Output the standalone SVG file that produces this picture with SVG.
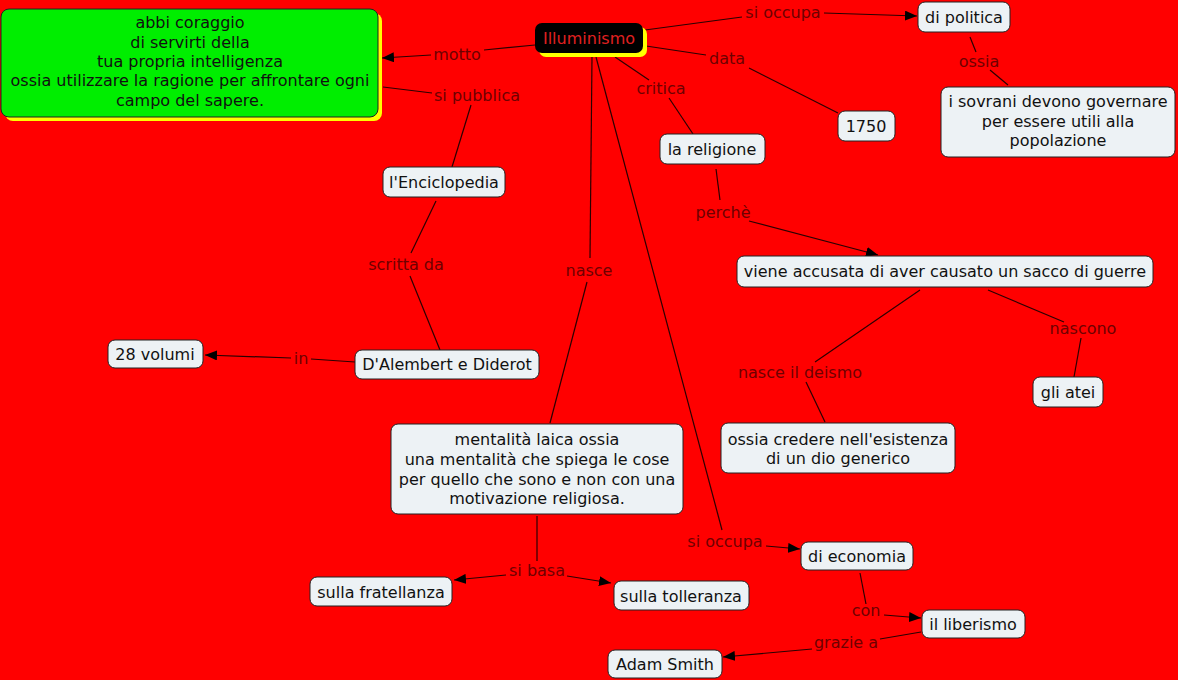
<svg xmlns="http://www.w3.org/2000/svg" width="1178" height="680" viewBox="0 0 1178 680">
<style>
text{font-family:"DejaVu Sans",Verdana,sans-serif;font-size:16px;text-anchor:middle;dominant-baseline:central}
.n rect.b{fill:#edf2f5;stroke:#222;stroke-width:1}
.n text{fill:#111}
.l{fill:#6e0000}
.c line{stroke:#2a0000;stroke-width:1.2}
.a{marker-end:url(#ah)}
</style>
<defs>
<marker id="ah" viewBox="0 0 12 10" refX="12" refY="5" markerWidth="12" markerHeight="10" markerUnits="userSpaceOnUse" orient="auto">
<path d="M0,0 L12,5 L0,10 Z" fill="#000"/>
</marker>
</defs>
<rect x="0" y="0" width="1178" height="680" fill="#ff0000"/>
<g class="c">
<line x1="535" y1="45" x2="484" y2="50"/><line x1="431" y1="55" x2="382" y2="58" class="a"/>
<line x1="383" y1="87" x2="432" y2="93"/><line x1="471" y1="105" x2="452" y2="167"/>
<line x1="645" y1="30" x2="742" y2="17"/><line x1="824" y1="13" x2="917" y2="16" class="a"/>
<line x1="646" y1="46" x2="706" y2="55"/><line x1="749" y1="68" x2="838" y2="113"/>
<line x1="615" y1="57" x2="649" y2="80"/><line x1="669" y1="98" x2="693" y2="134"/>
<line x1="970" y1="37" x2="976" y2="52"/><line x1="990" y1="70" x2="1008" y2="85"/>
<line x1="716" y1="169" x2="720" y2="200"/><line x1="749" y1="221" x2="878" y2="255" class="a"/>
<line x1="436" y1="201" x2="411" y2="253"/><line x1="410" y1="276" x2="440" y2="350"/>
<line x1="355" y1="362" x2="311" y2="359"/><line x1="291" y1="358" x2="205" y2="355" class="a"/>
<line x1="592" y1="57" x2="590" y2="258"/><line x1="587" y1="282" x2="550" y2="423"/>
<line x1="596" y1="57" x2="722" y2="530"/><line x1="766" y1="546" x2="800" y2="549" class="a"/>
<line x1="920" y1="290" x2="815" y2="362"/><line x1="806" y1="382" x2="825" y2="422"/>
<line x1="988" y1="290" x2="1064" y2="322"/><line x1="1081" y1="338" x2="1074" y2="377"/>
<line x1="537" y1="516" x2="537" y2="561"/><line x1="506" y1="575" x2="454" y2="580" class="a"/><line x1="567" y1="576" x2="611" y2="583" class="a"/>
<line x1="860" y1="573" x2="866" y2="604"/><line x1="884" y1="615" x2="921" y2="618" class="a"/>
<line x1="921" y1="632" x2="880" y2="639"/><line x1="812" y1="649" x2="723" y2="657" class="a"/>
</g>
<g class="labels">
<text class="l" x="457" y="54">motto</text>
<text class="l" x="477" y="95">si pubblica</text>
<text class="l" x="783" y="12">si occupa</text>
<text class="l" x="727" y="58">data</text>
<text class="l" x="661" y="88">critica</text>
<text class="l" x="979" y="61">ossia</text>
<text class="l" x="723" y="212">perchè</text>
<text class="l" x="406" y="264">scritta da</text>
<text class="l" x="301" y="358">in</text>
<text class="l" x="589" y="270">nasce</text>
<text class="l" x="725" y="541">si occupa</text>
<text class="l" x="800" y="372">nasce il deismo</text>
<text class="l" x="1083" y="328">nascono</text>
<text class="l" x="537" y="570">si basa</text>
<text class="l" x="866" y="610">con</text>
<text class="l" x="846" y="642">grazie a</text>
</g>
<g id="motto-node" class="n">
<rect x="5" y="13" width="377" height="108" rx="8" fill="#ffff00"/>
<rect x="1" y="9" width="377" height="108" rx="8" fill="#00ee00" stroke="#222"/>
<text x="190" y="22">abbi coraggio</text>
<text x="190" y="42">di servirti della</text>
<text x="190" y="61">tua propria intelligenza</text>
<text x="190" y="80">ossia utilizzare la ragione per affrontare ogni</text>
<text x="190" y="100">campo del sapere.</text>
</g>
<g id="illuminismo" class="n">
<rect x="539" y="27" width="108" height="30" rx="7" fill="#ffff00"/>
<rect x="535" y="23" width="108" height="30" rx="7" fill="#000"/>
<text x="589" y="38" style="fill:#e02020">Illuminismo</text>
</g>
<g id="politica" class="n"><rect class="b" x="918" y="2" width="92" height="30" rx="7"/><text x="964" y="17">di politica</text></g>
<g id="sovrani" class="n"><rect class="b" x="941" y="87" width="234" height="70" rx="7"/>
<text x="1058" y="101">i sovrani devono governare</text><text x="1058" y="121">per essere utili alla</text><text x="1058" y="140">popolazione</text></g>
<g id="anno" class="n"><rect class="b" x="838" y="111" width="57" height="30" rx="7"/><text x="866" y="126">1750</text></g>
<g id="religione" class="n"><rect class="b" x="660" y="134" width="105" height="30" rx="7"/><text x="712" y="149">la religione</text></g>
<g id="enciclopedia" class="n"><rect class="b" x="383" y="167" width="122" height="30" rx="7"/><text x="444" y="182">l'Enciclopedia</text></g>
<g id="accusata" class="n"><rect class="b" x="737" y="256" width="416" height="31" rx="7"/><text x="945" y="271">viene accusata di aver causato un sacco di guerre</text></g>
<g id="volumi" class="n"><rect class="b" x="108" y="340" width="95" height="28" rx="7"/><text x="155" y="354">28 volumi</text></g>
<g id="dalembert" class="n"><rect class="b" x="355" y="350" width="184" height="29" rx="7"/><text x="447" y="364">D'Alembert e Diderot</text></g>
<g id="atei" class="n"><rect class="b" x="1033" y="377" width="70" height="30" rx="7"/><text x="1068" y="392">gli atei</text></g>
<g id="deismo" class="n"><rect class="b" x="721" y="423" width="234" height="50" rx="7"/>
<text x="838" y="439">ossia credere nell'esistenza</text><text x="838" y="458">di un dio generico</text></g>
<g id="mentalita" class="n"><rect class="b" x="391" y="424" width="292" height="90" rx="7"/>
<text x="537" y="439">mentalità laica ossia</text><text x="537" y="459">una mentalità che spiega le cose</text><text x="537" y="479">per quello che sono e non con una</text><text x="537" y="498">motivazione religiosa.</text></g>
<g id="economia" class="n"><rect class="b" x="801" y="542" width="112" height="28" rx="7"/><text x="857" y="556">di economia</text></g>
<g id="fratellanza" class="n"><rect class="b" x="310" y="577" width="142" height="29" rx="7"/><text x="381" y="592">sulla fratellanza</text></g>
<g id="tolleranza" class="n"><rect class="b" x="614" y="581" width="135" height="29" rx="7"/><text x="681" y="596">sulla tolleranza</text></g>
<g id="liberismo" class="n"><rect class="b" x="922" y="610" width="103" height="28" rx="7"/><text x="973" y="624">il liberismo</text></g>
<g id="smith" class="n"><rect class="b" x="608" y="650" width="114" height="28" rx="7"/><text x="665" y="664">Adam Smith</text></g>
</svg>
